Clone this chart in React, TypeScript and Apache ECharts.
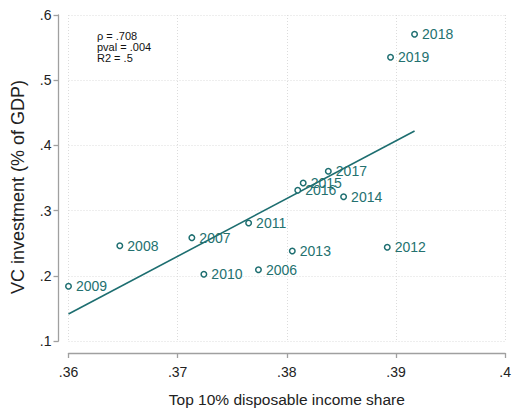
import React, { useEffect, useRef } from "react";
import * as echarts from "echarts";

const years = ["2006","2007","2008","2009","2010","2011","2012","2013","2014","2015","2016","2017","2018","2019"];
const incomeShare = [0.3774, 0.3713, 0.3647, 0.3600, 0.3724, 0.3765, 0.3892, 0.3805, 0.3852, 0.3815, 0.3810, 0.3838, 0.3917, 0.3895];
const vcInvestment = [0.2094, 0.2585, 0.2462, 0.1839, 0.2023, 0.2810, 0.2437, 0.2380, 0.3213, 0.3423, 0.3311, 0.3603, 0.5704, 0.5351];
const fitX = [0.36, 0.3917];
const fitY = [0.1414, 0.422];
const statLines = ["ρ = .708", "pval = .004", "R2 = .5"];
const xTitle = "Top 10% disposable income share";
const yTitle = "VC investment (% of GDP)";

const TEAL = "#1d6e70";
const LABEL_TEAL = "#24716f";
const FONT = "'Liberation Sans', Arial, sans-serif";

const fmt = (v: number) => {
  let s = v.toFixed(2).replace(/^0/, "");
  s = s.replace(/0+$/, "");
  return s;
};

export default function App() {
  const ref = useRef<HTMLDivElement>(null);
  useEffect(() => {
    if (!ref.current) return;
    const chart = echarts.init(ref.current, undefined, { renderer: "svg" });
    chart.setOption({
      animation: false,
      backgroundColor: "#ffffff",
      textStyle: { fontFamily: FONT },
      grid: { left: 68.5, right: 4, top: 15, bottom: 74 },
      xAxis: {
        type: "value",
        min: 0.36,
        max: 0.4,
        interval: 0.01,
        offset: 12,
        name: xTitle,
        nameLocation: "middle",
        nameGap: 38,
        nameTextStyle: { fontSize: 15.5, color: "#222", fontFamily: FONT },
        axisLine: { show: true, lineStyle: { color: "#a0a0a0", width: 1.3 } },
        axisTick: { show: true, length: 5, lineStyle: { color: "#a0a0a0", width: 1.3 } },
        axisLabel: { formatter: fmt, fontSize: 14, color: "#222", margin: 12, fontFamily: FONT },
        splitLine: { show: true, lineStyle: { color: "#dcdcdc", type: [1, 2], width: 1 } },
      },
      yAxis: {
        type: "value",
        min: 0.1,
        max: 0.6,
        interval: 0.1,
        offset: 10,
        name: yTitle,
        nameLocation: "middle",
        nameGap: 32,
        nameTextStyle: { fontSize: 18, color: "#222", fontFamily: FONT, padding: [0, 18, 0, 0] },
        axisLine: { show: true, lineStyle: { color: "#a0a0a0", width: 1.3 } },
        axisTick: { show: true, length: 5, lineStyle: { color: "#a0a0a0", width: 1.3 } },
        axisLabel: { formatter: fmt, fontSize: 14, color: "#222", margin: 7, fontFamily: FONT },
        splitLine: { show: true, lineStyle: { color: "#dcdcdc", type: [1, 2], width: 1 } },
      },
      graphic: statLines.map((t, i) => ({
        type: "text",
        left: 97,
        top: 30 + i * 11,
        style: { text: t, fill: "#111", font: `11px ${FONT}` },
      })),
      series: [
        {
          type: "line",
          data: fitX.map((x, i) => [x, fitY[i]]),
          showSymbol: false,
          symbol: "none",
          lineStyle: { color: TEAL, width: 1.6 },
          z: 2,
        },
        {
          type: "scatter",
          data: years.map((y, i) => ({ name: y, value: [incomeShare[i], vcInvestment[i]] })),
          symbol: "circle",
          symbolSize: 5.5,
          itemStyle: { color: "#ffffff", borderColor: TEAL, borderWidth: 1.5, opacity: 1 },
          label: {
            show: true,
            position: "right",
            distance: 4,
            formatter: (p: any) => p.name,
            fontSize: 14,
            color: LABEL_TEAL,
            fontFamily: FONT,
            textBorderWidth: 0,
            textBorderColor: "transparent",
          },
          labelLayout: { hideOverlap: false },
          z: 3,
        },
      ],
    });
    return () => chart.dispose();
  }, []);
  return (
    <div
      ref={ref}
      style={{ position: "absolute", left: 0, top: 0, width: 514, height: 415 }}
    />
  );
}
